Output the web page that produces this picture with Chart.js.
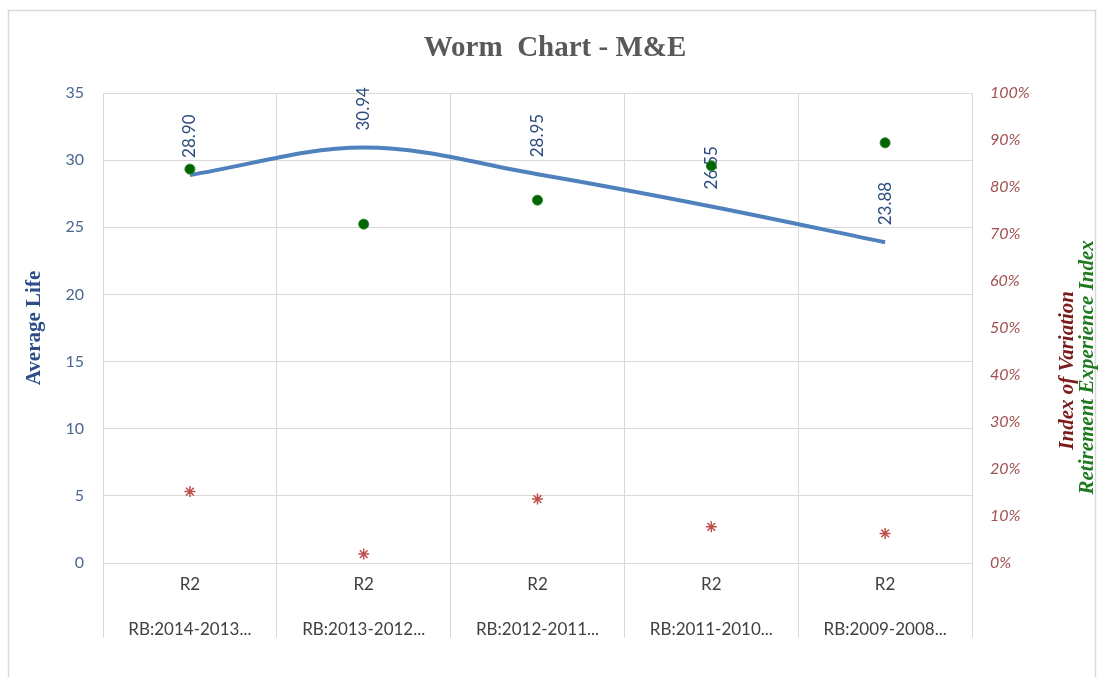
<!DOCTYPE html>
<html>
<head>
<meta charset="utf-8">
<script src="https://cdn.jsdelivr.net/npm/chart.js@4/dist/chart.umd.min.js"></script>
<style>
  html, body { margin: 0; padding: 0; background: #ffffff; }
  #wrap { width: 1098px; height: 677px; }
</style>
</head>
<body>
<div id="wrap"><canvas id="c" width="1098" height="677"></canvas></div>
<script>
// ---- data ----
const chartTitle = 'Worm  Chart - M&E';
const leftAxisTitle = 'Average Life';
const rightAxisTitle1 = 'Index of Variation';
const rightAxisTitle2 = 'Retirement Experience Index';
const categoryLevel1 = ['R2', 'R2', 'R2', 'R2', 'R2'];
const categoryLevel2 = ['RB:2014-2013...', 'RB:2013-2012...', 'RB:2012-2011...', 'RB:2011-2010...', 'RB:2009-2008...'];
const averageLife = [28.90, 30.94, 28.95, 26.55, 23.88];
const retirementExperienceIndex = [0.838, 0.721, 0.772, 0.845, 0.894];
const indexOfVariation = [0.152, 0.019, 0.136, 0.077, 0.063];
const leftAxisRange = [0, 35, 5];
const rightAxisRange = [0, 1, 0.1];

const labels = categoryLevel1.map((l, i) => [l, categoryLevel2[i]]);
const GRID = '#d9d9d9';
const SERIF = '"Liberation Serif", "DejaVu Serif", serif';

const frameBorder = {
  id: 'frameBorder',
  beforeDraw(chart) {
    const ctx = chart.ctx;
    ctx.save();
    ctx.fillStyle = '#ffffff';
    ctx.fillRect(0, 0, chart.width, chart.height);
    ctx.strokeStyle = '#d9d9d9';
    ctx.lineWidth = 1.5;
    ctx.strokeRect(8.5, 10.5, chart.width - 11, chart.height + 20);
    ctx.restore();
  }
};

const lineLabels = {
  id: 'lineLabels',
  afterDatasetDraw(chart, args) {
    if (chart.data.datasets[args.index].id !== 'life') return;
    const ctx = chart.ctx;
    ctx.save();
    ctx.font = '17px Lato, "Open Sans", sans-serif';
    ctx.fillStyle = '#2c4d7d';
    args.meta.data.forEach((pt, i) => {
      ctx.save();
      ctx.translate(pt.x, pt.y - 17);
      ctx.rotate(-Math.PI / 2);
      ctx.textAlign = 'left';
      ctx.textBaseline = 'middle';
      ctx.fillText(averageLife[i].toFixed(2), 0, 0);
      ctx.restore();
    });
    ctx.restore();
  }
};

const rightTitles = {
  id: 'rightTitles',
  afterDraw(chart) {
    const ctx = chart.ctx;
    const ca = chart.chartArea;
    const s = chart.scales.y2;
    const cy = ca.top + (ca.bottom - ca.top) * 0.59;
    const draw = (text, x, y, color) => {
      ctx.save();
      ctx.font = 'italic bold 21px ' + SERIF;
      ctx.textAlign = 'center';
      ctx.textBaseline = 'middle';
      ctx.translate(x, y);
      ctx.rotate(-Math.PI / 2);
      ctx.fillStyle = color;
      ctx.fillText(text, 0, 0);
      ctx.restore();
    };
    draw(rightAxisTitle1, s.left + 10, cy, '#7b1a1a');
    draw(rightAxisTitle2, s.left + 30, cy - 3, '#1f7a1f');
  }
};

new Chart(document.getElementById('c'), {
  type: 'line',
  data: {
    labels: labels,
    datasets: [
      {
        id: 'rei',
        label: rightAxisTitle2,
        data: retirementExperienceIndex,
        yAxisID: 'y2',
        showLine: false,
        pointRadius: 5,
        pointHoverRadius: 5,
        pointBackgroundColor: '#006400',
        pointBorderColor: '#2a8a2a',
        pointBorderWidth: 1,
        order: 0
      },
      {
        id: 'iov',
        label: rightAxisTitle1,
        data: indexOfVariation,
        yAxisID: 'y1',
        showLine: false,
        pointStyle: 'star',
        pointRadius: 5.5,
        pointHoverRadius: 5.5,
        pointBackgroundColor: '#c0504d',
        pointBorderColor: '#c0504d',
        pointBorderWidth: 1.5,
        order: 1
      },
      {
        id: 'life',
        label: leftAxisTitle,
        data: averageLife,
        yAxisID: 'y',
        borderColor: '#4f81bd',
        borderWidth: 4,
        pointRadius: 0,
        tension: 0.35,
        fill: false,
        order: 2
      }
    ]
  },
  options: {
    responsive: false,
    animation: false,
    layout: { padding: { left: 12, right: 0, top: 0, bottom: 24.5 } },
    plugins: {
      legend: { display: false },
      tooltip: { enabled: false },
      title: {
        display: true,
        text: chartTitle,
        color: '#595959',
        font: { family: SERIF, size: 29, weight: 'bold', lineHeight: 1.2 },
        padding: { top: 31.6, bottom: 26.6 }
      }
    },
    scales: {
      x: {
        type: 'category',
        offset: true,
        afterFit(scale) { scale.height = 89.5; },
        grid: { display: true, offset: true, color: GRID, tickColor: GRID, tickLength: 75, drawTicks: true, lineWidth: 1 },
        border: { display: true, color: GRID },
        ticks: {
          color: '#404040',
          font: { family: 'Lato, "Open Sans", sans-serif', size: 17, lineHeight: 45 / 17 },
          padding: -75.5,
          maxRotation: 0,
          autoSkip: false
        }
      },
      y: {
        position: 'left',
        min: leftAxisRange[0],
        max: leftAxisRange[1],
        afterFit(scale) { scale.width = 91; },
        grid: { color: GRID, drawTicks: false, lineWidth: 1 },
        border: { display: false },
        ticks: {
          stepSize: leftAxisRange[2],
          color: '#4a6791',
          padding: 19,
          font: { family: 'Lato, "Open Sans", sans-serif', size: 16 }
        },
        title: {
          display: true,
          text: leftAxisTitle,
          color: '#2c4d8a',
          font: { family: SERIF, size: 21, weight: 'bold', lineHeight: 1.2 },
          padding: { top: 10.4, bottom: 0 }
        }
      },
      y1: {
        position: 'right',
        weight: 0,
        min: rightAxisRange[0],
        max: rightAxisRange[1],
        afterFit(scale) { scale.width = 86; },
        grid: { display: false, drawTicks: false },
        border: { display: false },
        ticks: {
          stepSize: rightAxisRange[2],
          color: '#a0504f',
          padding: 18,
          font: { family: 'Lato, "Open Sans", sans-serif', size: 16, style: 'italic' },
          callback: (v) => Math.round(v * 100) + '%'
        }
      },
      y2: {
        position: 'right',
        weight: 1,
        min: rightAxisRange[0],
        max: rightAxisRange[1],
        afterFit(scale) { scale.width = 40; },
        grid: { display: false, drawTicks: false },
        border: { display: false },
        ticks: { display: false, stepSize: rightAxisRange[2] }
      }
    }
  },
  plugins: [frameBorder, lineLabels, rightTitles]
});
</script>
</body>
</html>
